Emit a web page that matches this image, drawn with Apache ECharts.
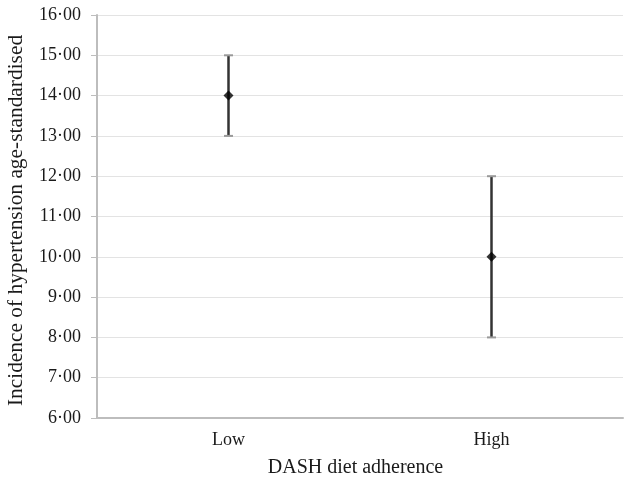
<!DOCTYPE html>
<html>
<head>
<meta charset="utf-8">
<script src="https://cdn.jsdelivr.net/npm/echarts@6/dist/echarts.min.js"></script>
<style>
  html, body { margin: 0; padding: 0; background: #fff; }
  #chart { width: 624px; height: 477px; }
</style>
</head>
<body>
<div id="chart"></div>
<script>
const categories = ['Low', 'High'];
const means = [14, 10];
const lower = [13, 8];
const upper = [15, 12];

const FONT = '"Liberation Serif", "DejaVu Serif", serif';

const chart = echarts.init(document.getElementById('chart'), null, { renderer: 'canvas' });

const errorData = categories.map((c, i) => [i, lower[i], upper[i]]);

chart.setOption({
  backgroundColor: '#fff',
  animation: false,
  grid: { left: 97, right: 1, top: 15, bottom: 59, containLabel: false, outerBoundsMode: 'none' },
  xAxis: {
    type: 'category',
    data: categories,
    name: 'DASH diet adherence',
    nameLocation: 'middle',
    nameGap: 40,
    nameTextStyle: { fontFamily: FONT, fontSize: 20, color: '#1a1a1a', padding: [0, 9, 0, 0] },
    axisLine: { lineStyle: { color: '#bdbdbd', width: 2 } },
    axisTick: { show: false },
    axisLabel: { fontFamily: FONT, fontSize: 18, color: '#1a1a1a', margin: 13 },
  },
  yAxis: {
    type: 'value',
    min: 6,
    max: 16,
    interval: 1,
    name: 'Incidence of hypertension age-standardised',
    nameLocation: 'middle',
    nameGap: 70,
    nameTextStyle: { fontFamily: FONT, fontSize: 21.4, color: '#1a1a1a', padding: [0, 8, 0, 0] },
    axisLine: { show: true, lineStyle: { color: '#bdbdbd', width: 2 } },
    axisTick: { show: true, length: 6, lineStyle: { color: '#bdbdbd' } },
    axisLabel: {
      fontFamily: FONT, fontSize: 18, color: '#1a1a1a', margin: 16,
      formatter: (v) => v.toFixed(2).replace('.', '·'),
    },
    splitLine: { lineStyle: { color: '#e3e3e3', width: 1 } },
  },
  series: [
    {
      type: 'custom',
      data: errorData,
      renderItem(params, api) {
        const x = api.value(0);
        const lo = api.coord([x, api.value(1)]);
        const hi = api.coord([x, api.value(2)]);
        const cap = 4.5;
        return {
          type: 'group',
          children: [
            { type: 'line', shape: { x1: lo[0], y1: lo[1], x2: hi[0], y2: hi[1] },
              style: { stroke: '#333', lineWidth: 2.5 } },
            { type: 'line', shape: { x1: lo[0] - cap, y1: lo[1], x2: lo[0] + cap, y2: lo[1] },
              style: { stroke: '#999', lineWidth: 2 } },
            { type: 'line', shape: { x1: hi[0] - cap, y1: hi[1], x2: hi[0] + cap, y2: hi[1] },
              style: { stroke: '#999', lineWidth: 2 } },
          ],
        };
      },
      z: 2,
    },
    {
      type: 'scatter',
      data: means,
      symbol: 'diamond',
      symbolSize: 10,
      itemStyle: { color: '#000' },
      z: 3,
    },
  ],
});
</script>
</body>
</html>
